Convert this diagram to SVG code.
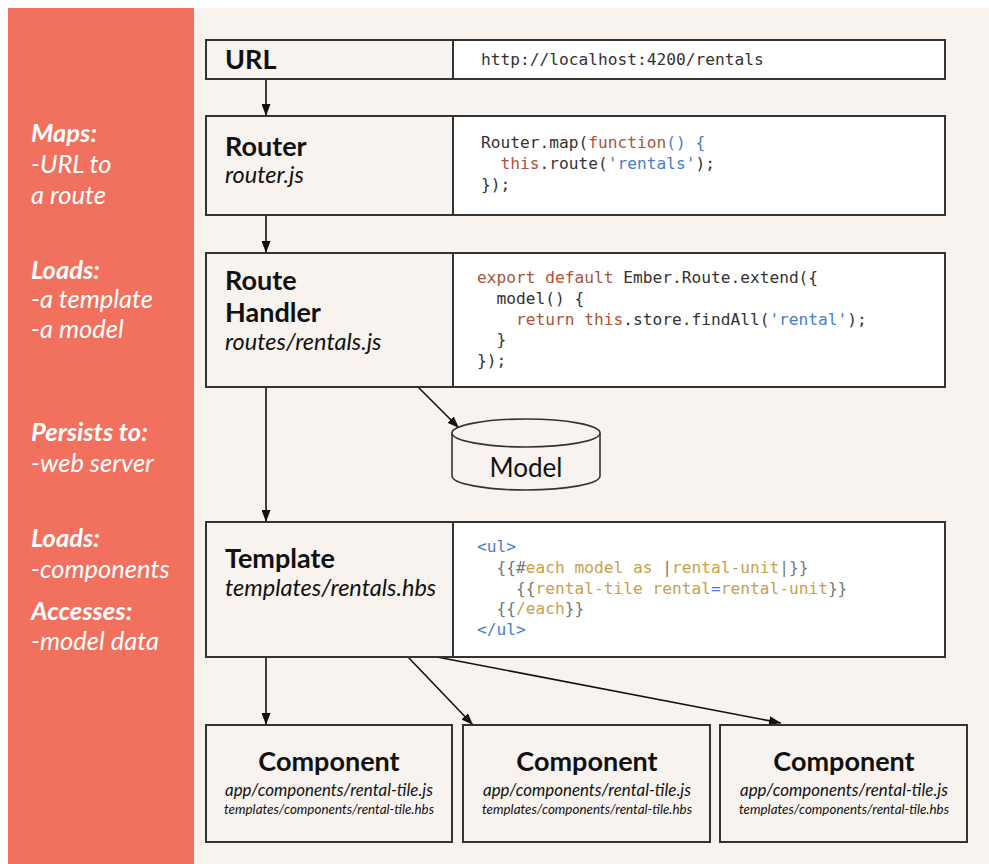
<svg xmlns="http://www.w3.org/2000/svg" width="989" height="864" viewBox="0 0 989 864">
  <defs>
    <marker id="arrow" viewBox="0 0 12 9" refX="12" refY="4.5" markerWidth="12" markerHeight="9" markerUnits="userSpaceOnUse" orient="auto">
      <path d="M0,0 L12,4.5 L0,9 Z" fill="#111"/>
    </marker>
    <style>
      .box { fill: #f8f3ef; stroke: #333; stroke-width: 2; }
      .code-bg { fill: #fff; stroke: #333; stroke-width: 2; }
      .title { font-family: Lato, "Liberation Sans", sans-serif; font-weight: bold; font-size: 27px; fill: #111; }
      .file { font-family: Lato, "Liberation Sans", sans-serif; font-style: italic; font-size: 23.5px; fill: #111; }
      .side { font-family: Lato, "Liberation Sans", sans-serif; font-style: italic; font-size: 25.5px; fill: #fff; }
      .side-h { font-weight: bold; }
      .code { font-family: "DejaVu Sans Mono", "Liberation Mono", monospace; font-size: 16.2px; fill: #333; white-space: pre; }
      .kw { fill: #a8553a; }
      .str { fill: #4a7cc7; }
      .hb { fill: #c9a04a; }
      .br { fill: #777; }
      .conn { stroke: #111; stroke-width: 1.6; fill: none; marker-end: url(#arrow); }
      .comp-title { font-family: Lato, "Liberation Sans", sans-serif; font-weight: bold; font-size: 27px; fill: #111; text-anchor: middle; }
      .comp-js { font-family: Lato, "Liberation Sans", sans-serif; font-style: italic; font-size: 17px; fill: #111; text-anchor: middle; }
      .comp-hbs { font-family: Lato, "Liberation Sans", sans-serif; font-style: italic; font-size: 13.5px; fill: #111; text-anchor: middle; }
    </style>
  </defs>

  <!-- page -->
  <rect x="0" y="0" width="989" height="864" fill="#fff"/>
  <rect x="8" y="8" width="981" height="856" fill="#f8f3ef"/>
  <rect x="8" y="8" width="186" height="856" fill="#f2705e"/>

  <!-- side notes -->
  <g id="notes">
    <text class="side" x="31" y="142"><tspan class="side-h">Maps:</tspan></text>
    <text class="side" x="31" y="173">-URL to</text>
    <text class="side" x="31" y="204">a route</text>
    <text class="side" x="31" y="279"><tspan class="side-h">Loads:</tspan></text>
    <text class="side" x="31" y="308">-a template</text>
    <text class="side" x="31" y="338">-a model</text>
    <text class="side" x="31" y="441"><tspan class="side-h">Persists to:</tspan></text>
    <text class="side" x="31" y="472">-web server</text>
    <text class="side" x="31" y="547"><tspan class="side-h">Loads:</tspan></text>
    <text class="side" x="31" y="578">-components</text>
    <text class="side" x="31" y="620"><tspan class="side-h">Accesses:</tspan></text>
    <text class="side" x="31" y="650">-model data</text>
  </g>

  <!-- connectors -->
  <g id="connectors">
    <line class="conn" x1="266" y1="79" x2="266" y2="116"/>
    <line class="conn" x1="266" y1="215" x2="266" y2="253"/>
    <line class="conn" x1="266" y1="387" x2="266" y2="522"/>
    <line class="conn" x1="418" y1="387" x2="459" y2="428"/>
    <line class="conn" x1="266" y1="657" x2="266" y2="725"/>
    <line class="conn" x1="408" y1="657" x2="473" y2="725"/>
    <line class="conn" x1="437" y1="657" x2="781" y2="723"/>
  </g>

  <!-- URL -->
  <g id="url">
    <rect class="box" x="206" y="40" width="247" height="39"/>
    <rect class="code-bg" x="453" y="40" width="492" height="39"/>
    <text class="title" x="225" y="69">URL</text>
    <text class="code" x="481" y="65">http://localhost:4200/rentals</text>
  </g>

  <!-- Router -->
  <g id="router">
    <rect class="box" x="206" y="116" width="247" height="99"/>
    <rect class="code-bg" x="453" y="116" width="492" height="99"/>
    <text class="title" x="225" y="156">Router</text>
    <text class="file" x="225" y="183">router.js</text>
    <text class="code" x="481" y="148">Router.map(<tspan class="kw">function</tspan><tspan class="str">() {</tspan></text>
    <text class="code" x="481" y="169">  <tspan class="kw">this</tspan>.route(<tspan class="str">'rentals'</tspan>);</text>
    <text class="code" x="481" y="190">});</text>
  </g>

  <!-- Route Handler -->
  <g id="route-handler">
    <rect class="box" x="206" y="253" width="247" height="134"/>
    <rect class="code-bg" x="453" y="253" width="492" height="134"/>
    <text class="title" x="225" y="290">Route</text>
    <text class="title" x="225" y="322">Handler</text>
    <text class="file" x="225" y="350">routes/rentals.js</text>
    <text class="code" x="477" y="283"><tspan class="kw">export default</tspan> Ember.Route.extend({</text>
    <text class="code" x="477" y="304">  model() {</text>
    <text class="code" x="477" y="325">    <tspan class="kw">return this</tspan>.store.findAll(<tspan class="str">'rental'</tspan>);</text>
    <text class="code" x="477" y="345">  }</text>
    <text class="code" x="477" y="366">});</text>
  </g>

  <!-- Model store -->
  <g id="model">
    <path d="M452,433 L452,476 A74,14 0 0 0 600,476 L600,433" fill="#f8f3ef" stroke="#333" stroke-width="1.6"/>
    <ellipse cx="526" cy="433" rx="74" ry="14" fill="#f8f3ef" stroke="#333" stroke-width="1.6"/>
    <text x="526" y="477" text-anchor="middle" font-family="Lato, 'Liberation Sans', sans-serif" font-size="26" fill="#111">Model</text>
  </g>

  <!-- Template -->
  <g id="template">
    <rect class="box" x="206" y="522" width="247" height="135"/>
    <rect class="code-bg" x="453" y="522" width="492" height="135"/>
    <text class="title" x="225" y="568">Template</text>
    <text class="file" x="225" y="596">templates/rentals.hbs</text>
    <text class="code" x="477" y="552"><tspan class="str">&lt;ul&gt;</tspan></text>
    <text class="code" x="477" y="573">  <tspan class="br">{{#</tspan><tspan class="hb">each model as </tspan><tspan class="br">|</tspan><tspan class="hb">rental-unit</tspan><tspan class="br">|}}</tspan></text>
    <text class="code" x="477" y="594">    <tspan class="br">{{</tspan><tspan class="hb">rental-tile rental</tspan><tspan class="str">=</tspan><tspan class="hb">rental-unit</tspan><tspan class="br">}}</tspan></text>
    <text class="code" x="477" y="614">  <tspan class="br">{{</tspan><tspan class="hb">/each</tspan><tspan class="br">}}</tspan></text>
    <text class="code" x="477" y="635"><tspan class="str">&lt;/ul&gt;</tspan></text>
  </g>

  <!-- Components -->
  <g id="component-1">
    <rect class="box" x="206" y="725" width="246" height="117"/>
    <text class="comp-title" x="329" y="771">Component</text>
    <text class="comp-js" x="329" y="796" textLength="208" lengthAdjust="spacingAndGlyphs">app/components/rental-tile.js</text>
    <text class="comp-hbs" x="329" y="814" textLength="210" lengthAdjust="spacingAndGlyphs">templates/components/rental-tile.hbs</text>
  </g>
  <g id="component-2">
    <rect class="box" x="463" y="725" width="247" height="117"/>
    <text class="comp-title" x="587" y="771">Component</text>
    <text class="comp-js" x="587" y="796" textLength="208" lengthAdjust="spacingAndGlyphs">app/components/rental-tile.js</text>
    <text class="comp-hbs" x="587" y="814" textLength="210" lengthAdjust="spacingAndGlyphs">templates/components/rental-tile.hbs</text>
  </g>
  <g id="component-3">
    <rect class="box" x="720" y="725" width="247" height="117"/>
    <text class="comp-title" x="844" y="771">Component</text>
    <text class="comp-js" x="844" y="796" textLength="208" lengthAdjust="spacingAndGlyphs">app/components/rental-tile.js</text>
    <text class="comp-hbs" x="844" y="814" textLength="210" lengthAdjust="spacingAndGlyphs">templates/components/rental-tile.hbs</text>
  </g>
</svg>
